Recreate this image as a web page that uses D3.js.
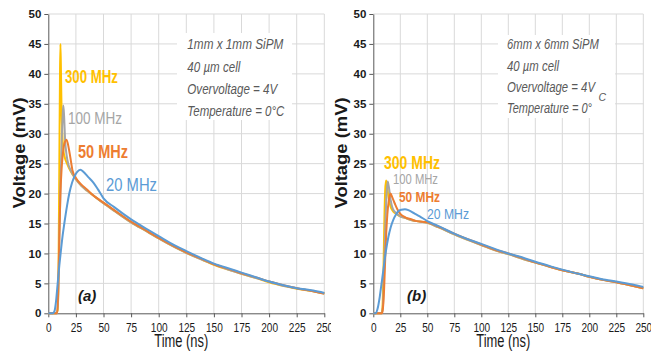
<!DOCTYPE html>
<html><head><meta charset="utf-8">
<script src="https://cdn.jsdelivr.net/npm/d3@7"></script>
<style>body{margin:0;background:#fff}</style></head>
<body>
<svg id="c" width="651" height="361"></svg>
<script>
// ---------- data ----------
const seriesNames = ["300 MHz", "100 MHz", "50 MHz", "20 MHz"];
const seriesColors = ["#FFC000", "#A5A5A5", "#ED7D31", "#5B9BD5"];
const xTicks = [0, 25, 50, 75, 100, 125, 150, 175, 200, 225, 250];
const yTicks = [0, 5, 10, 15, 20, 25, 30, 35, 40, 45, 50];
const panelTags = ["(a)", "(b)"];
const infoA = ["1mm x 1mm  SiPM", "40 µm cell", "Overvoltage = 4V", "Temperature = 0°C"];
const infoB = ["6mm x 6mm SiPM", "40 µm cell", "Overvoltage = 4V", "Temperature = 0°"];

// panel (a) 1mm x 1mm
const aT300 = [0, 7, 8.5, 9.3, 10, 10.6, 11, 11.5, 12, 12.7, 13.5, 15, 17, 20, 25, 30, 35, 40, 50, 60, 75, 90, 100, 115, 125, 140, 150, 165, 175, 190, 200, 215, 225, 240, 250];
const aV300 = [0, 0, 0.5, 8, 25, 40, 45, 40, 34, 30, 27.5, 26, 25, 23.8, 22.4, 21.3, 20.5, 19.8, 18.4, 17.1, 15.2, 13.6, 12.5, 11.0, 10.1, 8.9, 8.1, 7.2, 6.6, 5.8, 5.2, 4.5, 4.1, 3.7, 3.3];
const aT100 = [0, 8, 9, 10, 11, 12, 13, 13.6, 14.3, 15.2, 16.5, 18, 20, 25, 30, 35, 40, 50, 60, 75, 90, 100, 115, 125, 140, 150, 165, 175, 190, 200, 215, 225, 240, 250];
const aV100 = [0, 0, 3, 12, 21, 28, 33, 34.7, 33, 29, 26.5, 25, 24, 22.4, 21.3, 20.5, 19.8, 18.4, 17.1, 15.2, 13.6, 12.5, 11.0, 10.1, 8.9, 8.2, 7.2, 6.6, 5.8, 5.3, 4.5, 4.2, 3.7, 3.3];
const aT50 = [0, 8, 9, 10, 11, 12, 13, 14.5, 16.5, 18.5, 20, 22, 25, 30, 35, 40, 50, 60, 75, 90, 100, 115, 125, 140, 150, 165, 175, 190, 200, 215, 225, 240, 250];
const aV50 = [0, 0, 4, 13, 20, 24, 26.3, 28.3, 29, 27.6, 26, 23.8, 22.6, 21.5, 20.7, 19.8, 18.5, 17.2, 15.3, 13.7, 12.6, 11.1, 10.2, 9.0, 8.2, 7.3, 6.7, 5.9, 5.3, 4.6, 4.2, 3.7, 3.3];
const aT20 = [0, 4, 5.5, 7, 8.5, 10, 11.5, 13, 14.5, 17, 19, 21.5, 23.5, 26, 29, 32, 36, 41, 45, 50, 60, 75, 90, 100, 115, 125, 140, 150, 165, 175, 190, 200, 215, 225, 240, 250];
const aV20 = [0, 0, 0.3, 2, 5, 8, 10.6, 13, 15, 18, 20, 21.8, 22.8, 23.6, 24, 23.6, 22.8, 21.8, 20.7, 19.2, 17.7, 15.7, 14.0, 12.9, 11.3, 10.4, 9.1, 8.3, 7.4, 6.8, 5.9, 5.3, 4.6, 4.2, 3.8, 3.4];

// panel (b) 6mm x 6mm
const bT300 = [0, 7.5, 8.5, 9.5, 10.3, 11, 11.8, 12.6, 14, 16, 18.5, 21.5, 25, 30, 35, 40, 50, 60, 75, 90, 100, 115, 125, 140, 150, 165, 175, 190, 200, 215, 225, 240, 250];
const bV300 = [0, 0, 1, 8, 16, 20.5, 22.2, 21.5, 19.5, 17.8, 17.0, 16.6, 16.2, 15.9, 15.6, 15.4, 15.1, 14.4, 13.2, 12.1, 11.4, 10.4, 9.9, 9.0, 8.5, 7.7, 7.2, 6.6, 6.1, 5.5, 5.2, 4.6, 4.2];
const bT100 = [0, 8, 9, 10, 11, 12, 13.3, 14.5, 16, 18, 21.5, 25, 30, 35, 40, 50, 60, 75, 90, 100, 115, 125, 140, 150, 165, 175, 190, 200, 215, 225, 240, 250];
const bV100 = [0, 0, 1.5, 7, 14, 19, 22, 21, 19, 17.5, 16.7, 16.2, 15.9, 15.6, 15.4, 15.1, 14.4, 13.2, 12.1, 11.4, 10.4, 9.9, 9.0, 8.5, 7.7, 7.2, 6.6, 6.1, 5.5, 5.2, 4.6, 4.2];
const bT50 = [0, 8, 9, 10, 11, 12, 13, 14.5, 16, 17.5, 20, 22.5, 25, 30, 35, 40, 50, 60, 75, 90, 100, 115, 125, 140, 150, 165, 175, 190, 200, 215, 225, 240, 250];
const bV50 = [0, 0, 1, 4, 9, 13.5, 16.5, 19, 20, 19.4, 18.3, 17.3, 16.6, 16.0, 15.7, 15.4, 15.2, 14.5, 13.3, 12.2, 11.5, 10.5, 10.0, 9.1, 8.5, 7.7, 7.2, 6.6, 6.1, 5.5, 5.2, 4.6, 4.2];
const bT20 = [0, 2, 4, 6, 7.5, 9.3, 11.5, 14, 16, 18.5, 21, 23, 26, 29.3, 33, 38, 43, 50, 60, 75, 90, 100, 115, 125, 140, 150, 165, 175, 190, 200, 215, 225, 240, 250];
const bV20 = [0, 0, 0.8, 2.8, 4.8, 7.2, 10.2, 12.8, 14.3, 15.6, 16.5, 17, 17.3, 17.4, 17.2, 16.7, 16.2, 15.4, 14.6, 13.3, 12.2, 11.6, 10.6, 10.0, 9.2, 8.6, 7.8, 7.3, 6.6, 6.2, 5.6, 5.3, 4.8, 4.4];

const panelSeries = [
  [[aT300, aV300], [aT100, aV100], [aT50, aV50], [aT20, aV20]],
  [[bT300, bV300], [bT100, bV100], [bT50, bV50], [bT20, bV20]]
];

// ---------- layout ----------
const panels = [
  { x0: 48.3, x1: 324.3, clip: [0, 331], ylab: 24.5, info: infoA, box: [177, 33, 115, 87], infoX: 187.3,
    infoY: [48.5, 71.5, 93.5, 115.5], infoW: [96, 53, 90, 97], tag: [78, 300.5], sup: null,
    labels: [
      { x: 65, y: 83, w: 53, s: 18, b: 700 },
      { x: 68, y: 124, w: 54, s: 17, b: 400 },
      { x: 78, y: 158, w: 50, s: 18, b: 700 },
      { x: 106, y: 191, w: 51, s: 17.5, b: 400 } ] },
  { x0: 373.3, x1: 643.3, clip: [331, 651], ylab: 347, info: infoB, box: [498, 35, 117, 83], infoX: 507,
    infoY: [48.5, 70.5, 92, 112.5], infoW: [92, 52, 88, 85], tag: [407, 300.5], sup: [598.5, 101],
    labels: [
      { x: 384, y: 169, w: 56, s: 18.5, b: 700 },
      { x: 393, y: 184, w: 45, s: 15, b: 400 },
      { x: 399, y: 202, w: 41, s: 15.5, b: 700 },
      { x: 427, y: 219, w: 42, s: 15, b: 400 } ] }
];
const yTop = 14, yBot = 313.3;
const svg = d3.select("#c");
svg.append("rect").attr("width", 651).attr("height", 361).attr("fill", "#fff");
const narrow = "'Liberation Sans Narrow','Arial Narrow','Liberation Sans',sans-serif";
const sans = "'Liberation Sans',Arial,sans-serif";
function fit(sel, w) { return sel.attr("textLength", w).attr("lengthAdjust", "spacingAndGlyphs"); }

panels.forEach((p, pi) => {
  const defs = svg.append("defs");
  defs.append("clipPath").attr("id", "cp" + pi).append("rect")
    .attr("x", p.clip[0]).attr("y", 0).attr("width", p.clip[1] - p.clip[0]).attr("height", 361);
  const g = svg.append("g").attr("clip-path", `url(#cp${pi})`);
  const x = d3.scaleLinear().domain([0, 250]).range([p.x0, p.x1]);
  const y = d3.scaleLinear().domain([0, 50]).range([yBot, yTop]);

  // grid
  g.append("g").selectAll("line").data(xTicks.slice(1)).join("line")
    .attr("x1", d => x(d)).attr("x2", d => x(d)).attr("y1", yTop).attr("y2", yBot)
    .attr("stroke", "#d9d9d9").attr("stroke-width", 1);
  g.append("g").selectAll("line").data(yTicks.slice(1)).join("line")
    .attr("x1", p.x0).attr("x2", p.x1).attr("y1", d => y(d)).attr("y2", d => y(d))
    .attr("stroke", "#d9d9d9").attr("stroke-width", 1);

  // info box
  g.append("rect").attr("x", p.box[0]).attr("y", p.box[1]).attr("width", p.box[2]).attr("height", p.box[3]).attr("fill", "#fff");
  p.info.forEach((t, i) => {
    fit(g.append("text").attr("x", p.infoX).attr("y", p.infoY[i]).text(t)
      .attr("font-family", sans).attr("font-style", "italic").attr("font-size", 15).attr("fill", "#595959"), p.infoW[i]);
  });
  if (p.sup) {
    g.append("text").attr("x", p.sup[0]).attr("y", p.sup[1]).text("C").attr("font-family", sans)
      .attr("font-style", "italic").attr("font-size", 10.5).attr("fill", "#595959");
  }

  // axes
  const ya = g.append("g").attr("transform", `translate(${p.x0},0)`)
    .call(d3.axisLeft(y).tickValues(yTicks).tickSize(4).tickSizeOuter(0).tickPadding(3));
  ya.select(".domain").attr("stroke", "#595959");
  ya.selectAll(".tick line").attr("stroke", "#595959");
  ya.selectAll(".tick text").attr("font-family", sans).attr("font-weight", 700).attr("font-size", 11.5).attr("fill", "#1a1a1a");
  const xa = g.append("g").attr("transform", `translate(0,${yBot})`)
    .call(d3.axisBottom(x).tickValues(xTicks).tickSize(4).tickSizeOuter(0).tickPadding(5));
  xa.select(".domain").attr("stroke", "#595959");
  xa.selectAll(".tick line").attr("stroke", "#595959");
  xa.selectAll(".tick text").attr("font-family", narrow).attr("font-size", 13).attr("fill", "#1a1a1a")
    .each(function(d) { fit(d3.select(this), String(d).length * 5.6); });

  // axis titles
  fit(g.append("text").attr("x", (p.x0 + p.x1) / 2 - 5).attr("y", 347).attr("text-anchor", "middle")
    .attr("font-family", narrow).attr("font-size", 18).attr("fill", "#1a1a1a").text("Time (ns)"), 54);
  fit(g.append("text").attr("transform", `translate(${p.ylab},153) rotate(-90)`).attr("text-anchor", "middle")
    .attr("font-family", sans).attr("font-weight", 700).attr("font-size", 16).attr("fill", "#1a1a1a").text("Voltage (mV)"), 111);

  // curves
  const line = d3.line().x(d => x(d[0])).y(d => y(d[1])).curve(d3.curveMonotoneX);
  panelSeries[pi].forEach((s, si) => {
    const pts = s[0].map((t, k) => [t, s[1][k]]);
    g.append("path").datum(pts).attr("d", line).attr("fill", "none")
      .attr("stroke", seriesColors[si]).attr("stroke-width", 2).attr("stroke-linejoin", "round");
  });

  // series labels
  p.labels.forEach((l, si) => {
    fit(g.append("text").attr("x", l.x).attr("y", l.y).text(seriesNames[si])
      .attr("font-family", narrow).attr("font-weight", l.b).attr("font-size", l.s).attr("fill", seriesColors[si]), l.w);
  });

  g.append("text").attr("x", p.tag[0]).attr("y", p.tag[1]).text(panelTags[pi])
    .attr("font-family", sans).attr("font-style", "italic").attr("font-weight", 700)
    .attr("font-size", 15).attr("fill", "#1a1a1a");
});
</script>
</body></html>
